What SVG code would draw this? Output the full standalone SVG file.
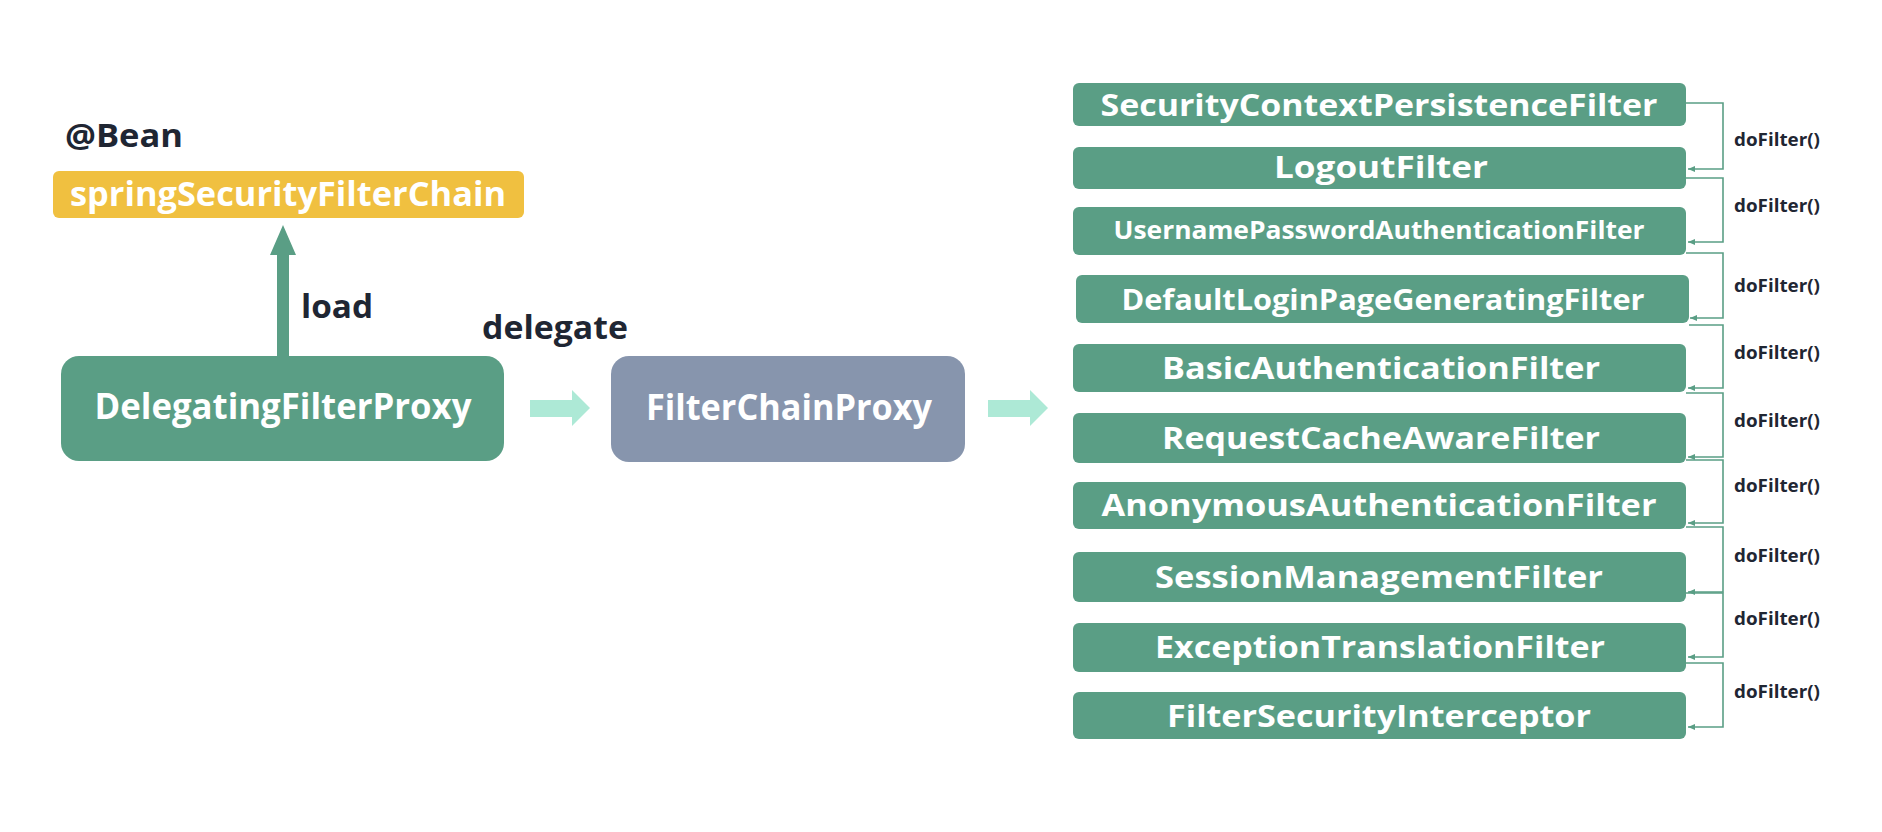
<svg xmlns="http://www.w3.org/2000/svg" width="1882" height="832" viewBox="0 0 1882 832">
<style>
  .lbl{font-family:"Open Sans","Noto Sans","Liberation Sans",sans-serif;font-weight:700;fill:#1f2633}
  .nt{font-family:"Open Sans","Noto Sans","Liberation Sans",sans-serif;font-weight:700;fill:#ffffff;text-anchor:middle}
  .f{fill:#5a9e85}
  .df{font-family:"Open Sans","Noto Sans","Liberation Sans",sans-serif;font-weight:700;fill:#1f2633;font-size:18px}
  .conn{fill:none;stroke:#5a9e85;stroke-width:1.6}
  .blk{fill:#ade9d6}
</style>
<defs>
  <marker id="ah" markerWidth="8" markerHeight="8" refX="7" refY="4" orient="auto" markerUnits="userSpaceOnUse">
    <path d="M0,1 L7,4 L0,7 Z" fill="#5a9e85"/>
  </marker>
</defs>
<rect width="1882" height="832" fill="#ffffff"/>

<text class="lbl" x="65" y="147" font-size="32" textLength="118" lengthAdjust="spacingAndGlyphs">@Bean</text>
<text class="lbl" x="301" y="318" font-size="33" textLength="72" lengthAdjust="spacingAndGlyphs">load</text>
<text class="lbl" x="482" y="339" font-size="33" textLength="146" lengthAdjust="spacingAndGlyphs">delegate</text>

<g id="springSecurityFilterChain">
  <rect x="53" y="171" width="471" height="47" rx="6" fill="#f0c040"/>
  <text class="nt" x="288" y="206" font-size="34" textLength="436" lengthAdjust="spacingAndGlyphs">springSecurityFilterChain</text>
</g>
<g id="DelegatingFilterProxy">
  <rect x="61" y="356" width="443" height="105" rx="18" class="f"/>
  <text class="nt" x="283" y="419" font-size="35" textLength="377" lengthAdjust="spacingAndGlyphs">DelegatingFilterProxy</text>
</g>
<g id="FilterChainProxy">
  <rect x="611" y="356" width="354" height="106" rx="18" fill="#8795ad"/>
  <text class="nt" x="789" y="420" font-size="35" textLength="286" lengthAdjust="spacingAndGlyphs">FilterChainProxy</text>
</g>

<g id="f1"><rect x="1073" y="83" width="613" height="43" rx="6" class="f"/>
  <text class="nt" x="1379" y="116" font-size="30" textLength="557" lengthAdjust="spacingAndGlyphs">SecurityContextPersistenceFilter</text></g>
<g id="f2"><rect x="1073" y="147" width="613" height="42" rx="6" class="f"/>
  <text class="nt" x="1381" y="178" font-size="30" textLength="214" lengthAdjust="spacingAndGlyphs">LogoutFilter</text></g>
<g id="f3"><rect x="1073" y="207" width="613" height="48" rx="6" class="f"/>
  <text class="nt" x="1379" y="239" font-size="25" textLength="531" lengthAdjust="spacingAndGlyphs">UsernamePasswordAuthenticationFilter</text></g>
<g id="f4"><rect x="1076" y="275" width="613" height="48" rx="6" class="f"/>
  <text class="nt" x="1383" y="310" font-size="29" textLength="523" lengthAdjust="spacingAndGlyphs">DefaultLoginPageGeneratingFilter</text></g>
<g id="f5"><rect x="1073" y="344" width="613" height="48" rx="6" class="f"/>
  <text class="nt" x="1381" y="379" font-size="30" textLength="438" lengthAdjust="spacingAndGlyphs">BasicAuthenticationFilter</text></g>
<g id="f6"><rect x="1073" y="413" width="613" height="50" rx="6" class="f"/>
  <text class="nt" x="1381" y="449" font-size="30" textLength="438" lengthAdjust="spacingAndGlyphs">RequestCacheAwareFilter</text></g>
<g id="f7"><rect x="1073" y="482" width="613" height="47" rx="6" class="f"/>
  <text class="nt" x="1379" y="516" font-size="30" textLength="555" lengthAdjust="spacingAndGlyphs">AnonymousAuthenticationFilter</text></g>
<g id="f8"><rect x="1073" y="552" width="613" height="50" rx="6" class="f"/>
  <text class="nt" x="1379" y="588" font-size="30" textLength="448" lengthAdjust="spacingAndGlyphs">SessionManagementFilter</text></g>
<g id="f9"><rect x="1073" y="623" width="613" height="49" rx="6" class="f"/>
  <text class="nt" x="1380" y="658" font-size="30" textLength="450" lengthAdjust="spacingAndGlyphs">ExceptionTranslationFilter</text></g>
<g id="f10"><rect x="1073" y="692" width="613" height="47" rx="6" class="f"/>
  <text class="nt" x="1379" y="727" font-size="30" textLength="424" lengthAdjust="spacingAndGlyphs">FilterSecurityInterceptor</text></g>

<g id="connectors">
  <polygon points="277,357 277,255 270,255 283,225 296,255 289,255 289,357" fill="#5a9e85"/>
  <polygon class="blk" points="530,400 572,400 572,390 590,408 572,426 572,417 530,417"/>
  <polygon class="blk" points="988,400 1030,400 1030,390 1048,408 1030,426 1030,417 988,417"/>

  <path class="conn" marker-end="url(#ah)" d="M1686,103 H1723 V169 H1688"/>
  <path class="conn" marker-end="url(#ah)" d="M1686,178 H1723 V242 H1688"/>
  <path class="conn" marker-end="url(#ah)" d="M1686,253 H1723 V318 H1690"/>
  <path class="conn" marker-end="url(#ah)" d="M1689,325 H1723 V388 H1688"/>
  <path class="conn" marker-end="url(#ah)" d="M1686,393 H1723 V457 H1688"/>
  <path class="conn" marker-end="url(#ah)" d="M1686,460 H1723 V523 H1688"/>
  <path class="conn" marker-end="url(#ah)" d="M1686,527 H1723 V592 H1688"/>
  <path class="conn" marker-end="url(#ah)" d="M1686,593 H1723 V657 H1688"/>
  <path class="conn" marker-end="url(#ah)" d="M1686,663 H1723 V727 H1688"/>
</g>

<g id="labels">
  <text class="df" x="1734" y="146" textLength="86" lengthAdjust="spacingAndGlyphs">doFilter()</text>
  <text class="df" x="1734" y="212" textLength="86" lengthAdjust="spacingAndGlyphs">doFilter()</text>
  <text class="df" x="1734" y="292" textLength="86" lengthAdjust="spacingAndGlyphs">doFilter()</text>
  <text class="df" x="1734" y="359" textLength="86" lengthAdjust="spacingAndGlyphs">doFilter()</text>
  <text class="df" x="1734" y="427" textLength="86" lengthAdjust="spacingAndGlyphs">doFilter()</text>
  <text class="df" x="1734" y="492" textLength="86" lengthAdjust="spacingAndGlyphs">doFilter()</text>
  <text class="df" x="1734" y="562" textLength="86" lengthAdjust="spacingAndGlyphs">doFilter()</text>
  <text class="df" x="1734" y="625" textLength="86" lengthAdjust="spacingAndGlyphs">doFilter()</text>
  <text class="df" x="1734" y="698" textLength="86" lengthAdjust="spacingAndGlyphs">doFilter()</text>
</g>
</svg>
